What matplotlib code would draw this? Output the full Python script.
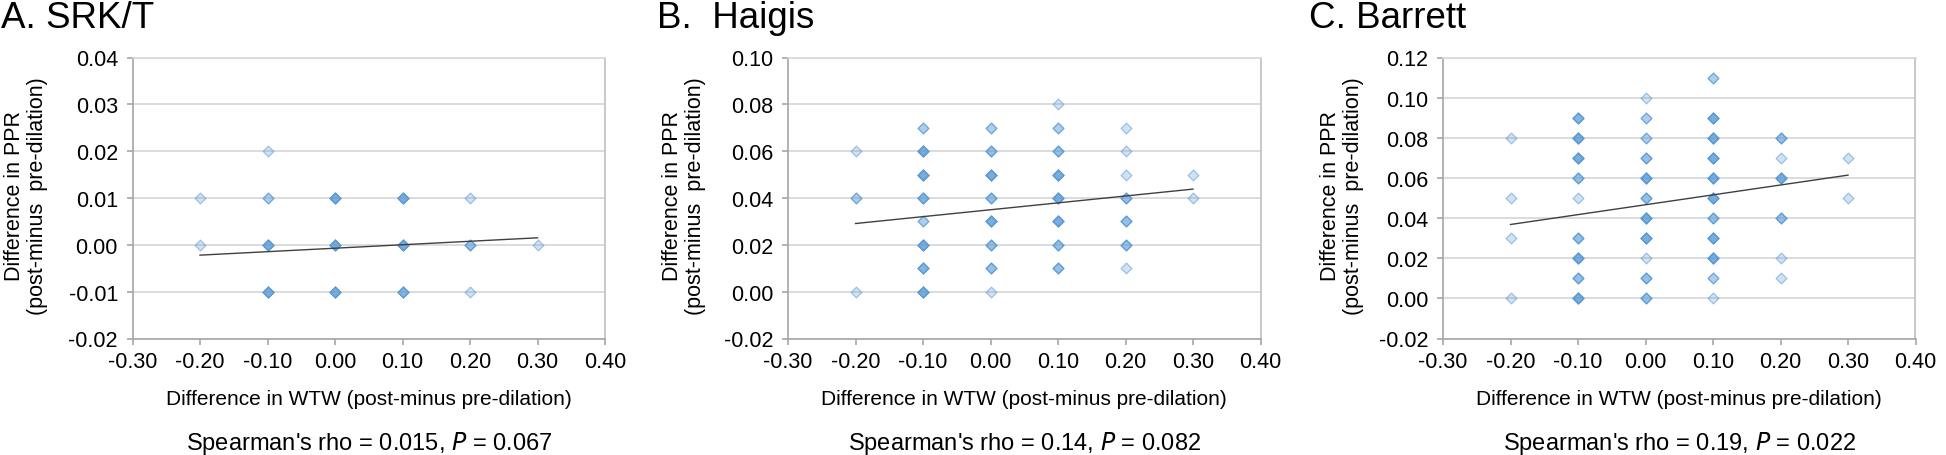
import matplotlib
matplotlib.use("Agg")
import matplotlib.pyplot as plt
import numpy as np

plt.rcParams["font.family"] = ["Liberation Sans", "DejaVu Sans"]

# x = difference in WTW, y = difference in PPR, n = number of overlapping patients
wtw_a = [-0.2, -0.2, -0.1, -0.1, -0.1, -0.1, 0.0, 0.0, 0.0, 0.1, 0.1, 0.1, 0.2, 0.2, 0.2, 0.3]
ppr_a = [0.01, 0.00, 0.02, 0.01, 0.00, -0.01, 0.01, 0.00, -0.01, 0.01, 0.00, -0.01, 0.01, 0.00, -0.01, 0.00]
n_a = [1, 1, 1, 2, 5, 5, 5, 5, 5, 5, 5, 4, 1, 3, 1, 1]

wtw_b = [-0.2, -0.2, -0.2,
         -0.1, -0.1, -0.1, -0.1, -0.1, -0.1, -0.1, -0.1,
         0.0, 0.0, 0.0, 0.0, 0.0, 0.0, 0.0, 0.0,
         0.1, 0.1, 0.1, 0.1, 0.1, 0.1, 0.1, 0.1,
         0.2, 0.2, 0.2, 0.2, 0.2, 0.2, 0.2,
         0.3, 0.3]
ppr_b = [0.06, 0.04, 0.00,
         0.07, 0.06, 0.05, 0.04, 0.03, 0.02, 0.01, 0.00,
         0.07, 0.06, 0.05, 0.04, 0.03, 0.02, 0.01, 0.00,
         0.08, 0.07, 0.06, 0.05, 0.04, 0.03, 0.02, 0.01,
         0.07, 0.06, 0.05, 0.04, 0.03, 0.02, 0.01,
         0.05, 0.04]
n_b = [1, 2, 1,
       2, 5, 5, 4, 2, 5, 4, 5,
       2, 3, 5, 3, 5, 3, 3, 1,
       1, 2, 3, 5, 5, 5, 3, 3,
       1, 1, 1, 3, 3, 3, 1,
       1, 1]

wtw_c = [-0.2, -0.2, -0.2, -0.2,
         -0.1, -0.1, -0.1, -0.1, -0.1, -0.1, -0.1, -0.1, -0.1,
         0.0, 0.0, 0.0, 0.0, 0.0, 0.0, 0.0, 0.0, 0.0, 0.0, 0.0,
         0.1, 0.1, 0.1, 0.1, 0.1, 0.1, 0.1, 0.1, 0.1, 0.1, 0.1,
         0.2, 0.2, 0.2, 0.2, 0.2, 0.2,
         0.3, 0.3]
ppr_c = [0.08, 0.05, 0.03, 0.00,
         0.09, 0.08, 0.07, 0.06, 0.05, 0.03, 0.02, 0.01, 0.00,
         0.10, 0.09, 0.08, 0.07, 0.06, 0.05, 0.04, 0.03, 0.02, 0.01, 0.00,
         0.11, 0.09, 0.08, 0.07, 0.06, 0.05, 0.04, 0.03, 0.02, 0.01, 0.00,
         0.08, 0.07, 0.06, 0.04, 0.02, 0.01,
         0.07, 0.05]
n_c = [1, 1, 1, 1,
       4, 5, 5, 3, 1, 3, 5, 3, 5,
       1, 2, 2, 3, 5, 3, 5, 5, 1, 3, 3,
       2, 5, 5, 5, 5, 5, 3, 5, 5, 2, 1,
       3, 1, 5, 3, 1, 1,
       1, 1]

# linear trend line end points (x = -0.2 and 0.3)
trend_x = [-0.2, 0.3]
trend_a = [-0.0022, 0.0015]
trend_b = [0.0291, 0.0438]
trend_c = [0.0368, 0.0614]

titles = ["A. SRK/T", "B.  Haigis", "C. Barrett"]
rho_text = ["Spearman's rho = 0.015, $\\it{P}$ = 0.067",
            "Spearman's rho = 0.14, $\\it{P}$ = 0.082",
            "Spearman's rho = 0.19, $\\it{P}$ = 0.022"]
yticks_all = [np.arange(-0.02, 0.041, 0.01),
              np.arange(-0.02, 0.101, 0.02),
              np.arange(-0.02, 0.121, 0.02)]
xticks = [-0.3, -0.2, -0.1, 0.0, 0.1, 0.2, 0.3, 0.4]

panels = [(wtw_a, ppr_a, n_a, trend_a), (wtw_b, ppr_b, n_b, trend_b), (wtw_c, ppr_c, n_c, trend_c)]

fig = plt.figure(figsize=(19.46, 4.56), dpi=100)
W, H = 1946.0, 456.0
ax_left = [132.5, 788, 1443]
ax_w = 472.5
title_x = [1, 657, 1309]
ylab_x = [26, 684, 1342]

blue = (0.357, 0.608, 0.835)
for i, (xs, ys, ns, tr) in enumerate(panels):
    ax = fig.add_axes([ax_left[i] / W, 1 - 339.5 / H, ax_w / W, (339.5 - 58.5) / H])
    yt = yticks_all[i]
    ax.set_xlim(-0.3, 0.4)
    ax.set_ylim(yt[0], yt[-1])
    ax.set_xticks(xticks)
    ax.set_xticklabels([f"{t:.2f}" for t in xticks])
    ax.set_yticks(yt)
    ax.set_yticklabels([f"{t:.2f}" for t in yt])
    ax.yaxis.grid(True, color="#D9D9D9", lw=1.3)
    ax.set_axisbelow(True)
    for s in ax.spines.values():
        s.set_color("#A6A6A6")
        s.set_linewidth(1.2)
    ax.spines["top"].set_color("#D9D9D9")
    ax.spines["right"].set_color("#BFBFBF")
    ax.tick_params(axis="both", colors="#A6A6A6", labelcolor="black", labelsize=15.5,
                   length=4, width=1.2)
    ax.tick_params(axis="x", pad=5)
    ax.tick_params(axis="y", pad=6.5)

    # repeat stacked points so that overlap gets darker
    px = np.repeat(xs, ns)
    py = np.repeat(ys, ns)
    ax.scatter(px, py, marker="D", s=30, facecolors=[blue + (0.28,)],
               edgecolors=[blue + (0.55,)], linewidths=0.9, zorder=3)
    ax.plot(trend_x, tr, color="#404040", lw=1.0, zorder=4)

    cx = (ax_left[i] + ax_w / 2) / W
    fig.text(title_x[i] / W, 1 - 28 / H, titles[i], fontsize=26.5, ha="left", va="baseline")
    fig.text(cx, 1 - 405 / H, "Difference in WTW (post-minus pre-dilation)",
             fontsize=15, ha="center", va="baseline")
    fig.text(cx, 1 - 450 / H, rho_text[i], fontsize=17, ha="center", va="baseline")
    fig.text(ylab_x[i] / W, 1 - 196 / H, "Difference in PPR\n(post-minus  pre-dilation)",
             fontsize=15.5, rotation=90, ha="center", va="center", linespacing=1.15)

fig.savefig("out.png", dpi=100)
